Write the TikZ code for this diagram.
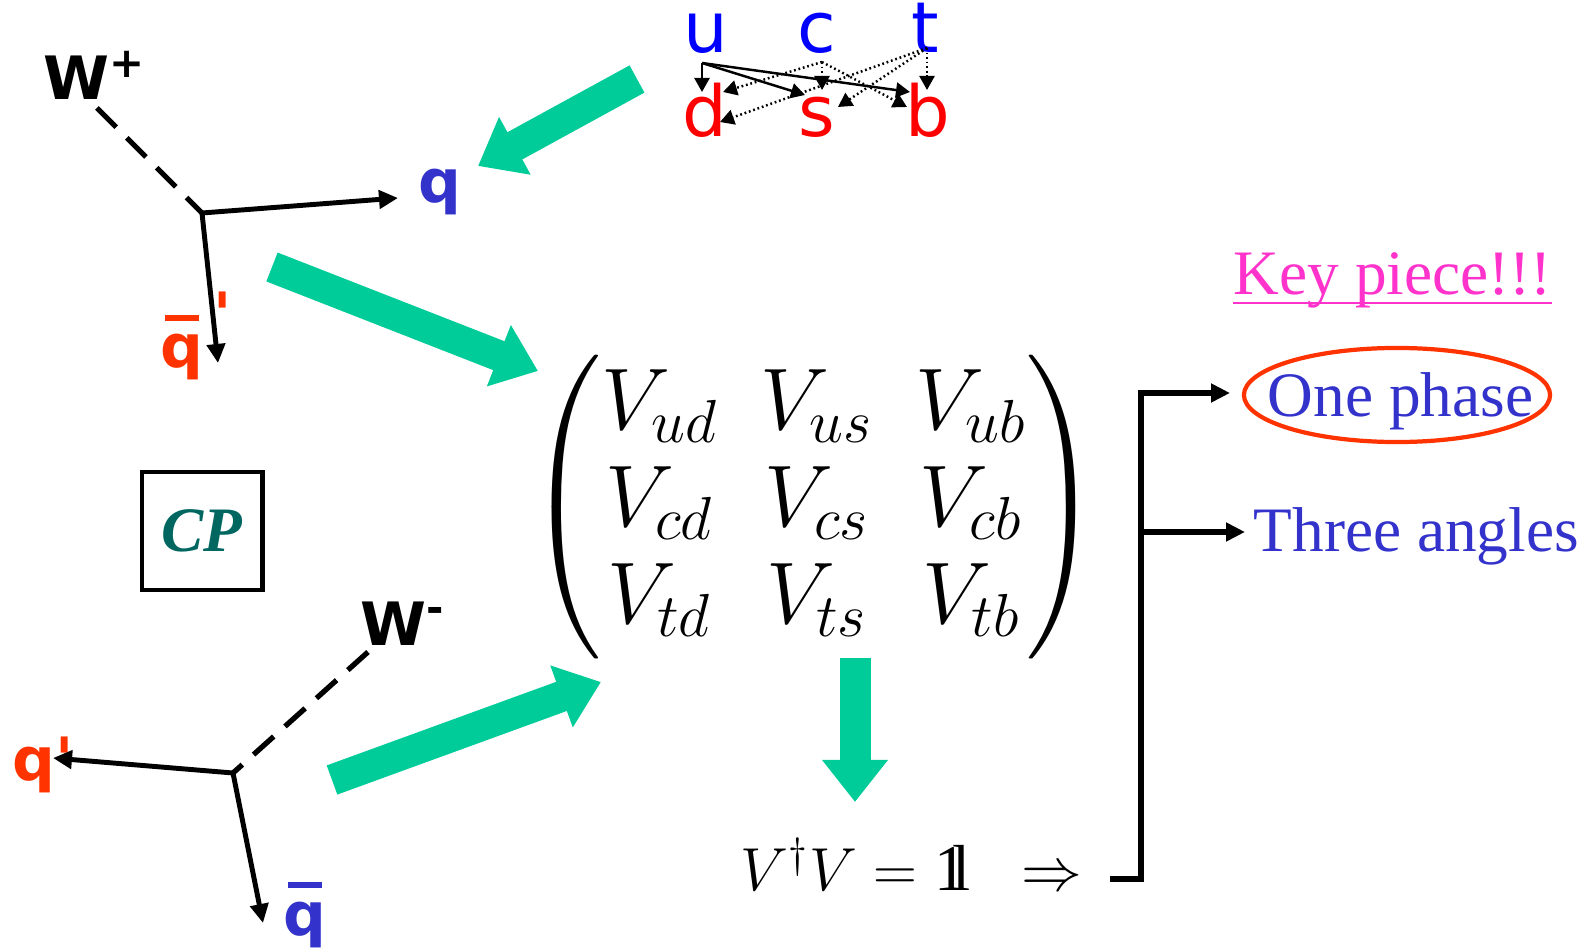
\documentclass[tikz,border=0pt]{standalone}
\usepackage{amsmath,amssymb}
\usepackage{fontspec}
\setmainfont{Liberation Serif}
\newfontfamily\labelfont{DejaVu Sans}
\usetikzlibrary{arrows.meta, calc}

\definecolor{quarkblue}{RGB}{0,0,255}
\definecolor{quarkred}{RGB}{255,0,0}
\definecolor{textblue}{RGB}{51,51,204}
\definecolor{partred}{RGB}{255,51,0}
\definecolor{keypink}{RGB}{255,51,204}
\definecolor{arrowgreen}{RGB}{0,204,153}
\definecolor{cpteal}{RGB}{0,102,96}

% antiquark: bar drawn over the letter
\newcommand{\barred}[1]{\rlap{\hspace{0.08em}\rule[0.78em]{0.56em}{0.1em}}#1}
% unit matrix, double-struck one
\newcommand{\unitone}{\mathrm{1\mkern-4.3mu l}}

\begin{document}
\begin{tikzpicture}[x=0.01cm, y=-0.01cm,
    bigarrow/.style={line width=0.31cm, arrowgreen, -{Triangle[length=0.42cm, width=0.63cm]}},
    prop/.style={line width=1.4pt, line join=miter, {Triangle[length=0.19cm, width=0.18cm]}-{Triangle[length=0.19cm, width=0.18cm]}},
    wline/.style={line width=1.5pt, dash pattern=on 7.7pt off 4.3pt},
    mix/.style={line width=0.7pt, -{Triangle[length=0.14cm, width=0.15cm]}},
    faint/.style={mix, dash pattern=on 0.5pt off 0.8pt},
    quark/.style={font=\labelfont\fontsize{20}{24}\selectfont, anchor=base, inner sep=0pt},
    part/.style={font=\labelfont\bfseries\fontsize{17}{20}\selectfont, anchor=base west, inner sep=0pt},
    bline/.style={line width=1.7pt, line join=miter, -{Triangle[length=0.19cm, width=0.18cm]}},
    say/.style={font=\fontsize{18}{22}\selectfont, textblue, anchor=base west, inner sep=0pt}
]
\useasboundingbox (0,0) rectangle (1591,949);

% quark mixing
\node[quark, quarkblue] (qu) at (706,53) {u};
\node[quark, quarkblue] (qc) at (817,53) {c};
\node[quark, quarkblue] (qt) at (925,53) {t};
\node[quark, quarkred] (qd) at (705,137) {d};
\node[quark, quarkred] (qs) at (817,137) {s};
\node[quark, quarkred] (qb) at (928,137) {b};
\coordinate (upt) at (702,63);
\coordinate (cpt) at (822,62);
\coordinate (tpt) at (927,48);
\coordinate (ud) at (702,92);
\coordinate (us) at (805,95);
\coordinate (ub) at (910,92);
\coordinate (cd) at (723,92);
\coordinate (cs) at (822,90);
\coordinate (cb) at (907,107);
\coordinate (td) at (720,122);
\coordinate (ts) at (838,107);
\coordinate (tb) at (927,90);
\foreach \j in {d,s,b} \draw[mix] (upt) -- (u\j);
\foreach \j in {d,s,b} \draw[faint] (cpt) -- (c\j);
\foreach \j in {d,s,b} \draw[faint] (tpt) -- (t\j);

% W+ decay
\coordinate (vtxa) at (202,213);
\node[part] (wplus) at (43,100) {W\textsuperscript{+}};
\coordinate (wa) at (97,108);
\draw[wline] (wa) -- (vtxa);
\node[part, textblue] (qa) at (418,203) {q};
\node[part, partred] (qbarp) at (160,368) {\barred{q}\raisebox{0.55em}{\,'}};
\coordinate (qaend) at (398,198);
\coordinate (qbpend) at (218,363);
\draw[prop] (qbpend) -- (vtxa) -- (qaend);

% W- decay
\coordinate (vtxb) at (233,773);
\node[part] (wminus) at (360,645) {W\textsuperscript{-}};
\coordinate (wb) at (368,652);
\draw[wline] (wb) -- (vtxb);
\node[part, partred] (qp) at (12,780) {q'};
\node[part, textblue] (qbar) at (283,935) {\barred{q}};
\coordinate (qpend) at (53,758);
\coordinate (qbend) at (263,923);
\draw[prop] (qpend) -- (vtxb) -- (qbend);

% CP
\node[draw, line width=1.4pt, minimum width=1.2cm, minimum height=1.18cm,
  font=\bfseries\itshape\fontsize{18}{22}\selectfont, text=cpteal] (cp) at (202,531) {CP};

% CKM matrix
\node (ckm) at (814,507) {\fontsize{24}{27.5}\selectfont\setlength{\arraycolsep}{6pt}%
  $\begin{pmatrix} V_{ud} & V_{us} & V_{ub}\\ V_{cd} & V_{cs} & V_{cb}\\ V_{td} & V_{ts} & V_{tb} \end{pmatrix}$};
\node[anchor=base west, inner sep=0pt] (unit) at (740,890)
  {\fontsize{18.5}{22}\selectfont$V^{\dagger}V=\unitone\;\;\Rightarrow$};

% green arrows
\coordinate (ga) at (637,79);   \coordinate (gae) at (478,166);
\coordinate (gb) at (272,267);  \coordinate (gbe) at (538,371);
\coordinate (gc) at (332,780);  \coordinate (gce) at (601,682);
\coordinate (gd) at (855,658);  \coordinate (gde) at (855,802);
\draw[bigarrow] (ga) -- (gae);
\draw[bigarrow] (gb) -- (gbe);
\draw[bigarrow] (gc) -- (gce);
\draw[bigarrow] (gd) -- (gde);

% consequences
\node[say, keypink] (key) at (1233,295) {Key piece!!!};
\draw[keypink, line width=0.8pt] ($(key.base west)+(0,8)$) -- ($(key.base east)+(0,8)$);
\node[say] (phase) at (1267,417) {One phase};
\draw[partred, line width=1.2pt] (1397,395) ellipse [x radius=1.53cm, y radius=0.47cm];
\node[say] (angles) at (1253,551) {Three angles};
\coordinate (brk) at (1110,879);
\coordinate (fork) at (1141,393);
\coordinate (forkb) at (1141,532);
\coordinate (tipone) at (1230,393);
\coordinate (tipthree) at (1245,532);
\draw[bline] (brk) -| (fork) -- (tipone);
\draw[bline] (forkb) -- (tipthree);
\end{tikzpicture}
\end{document}
